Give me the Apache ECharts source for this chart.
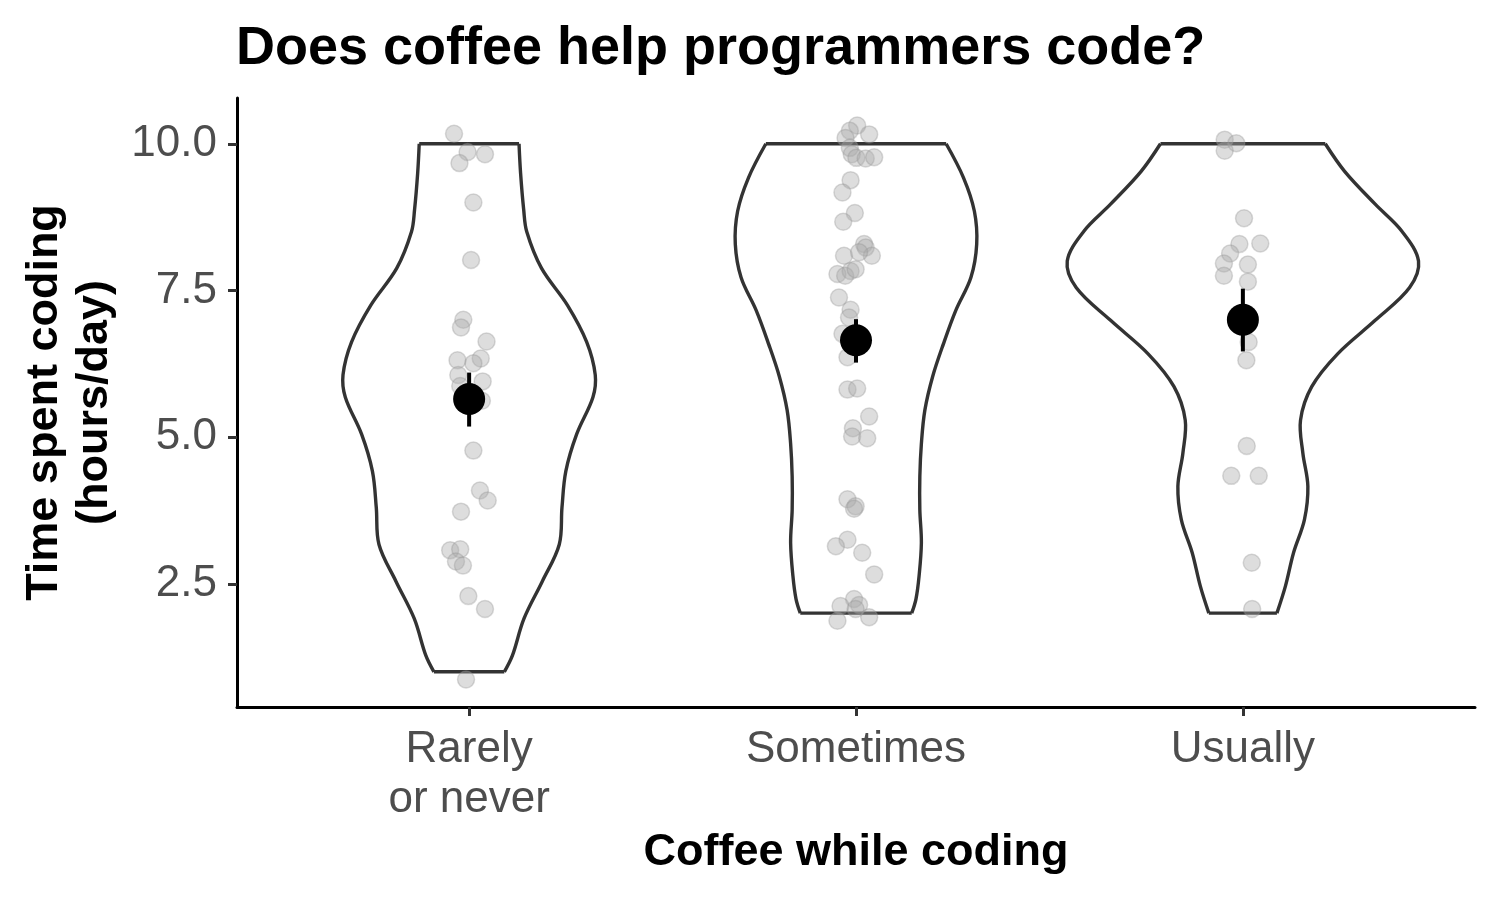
<!DOCTYPE html>
<html><head><meta charset="utf-8">
<script src="https://cdn.jsdelivr.net/npm/echarts@6/dist/echarts.min.js"></script>
<style>html,body{margin:0;padding:0;background:#fff}#chart{width:1500px;height:900px}</style>
</head><body><div id="chart"></div>
<script>
// ---- data ----
const categories = ['Rarely\nor never', 'Sometimes', 'Usually'];
const yTicks = [2.5, 5, 7.5, 10];

// violin outlines: hours level and half-width (in category units)
const violinRarelyLevels = [10, 9.5, 8.88, 8.50, 7.88, 7.25, 6.62, 6.06, 5.68, 5.05, 4.42, 3.80, 3.17, 2.54, 1.91, 1.28, 1.0];
const violinRarelyHalf   = [0.129, 0.133, 0.141, 0.149, 0.187, 0.254, 0.304, 0.326, 0.320, 0.278, 0.250, 0.240, 0.233, 0.189, 0.142, 0.112, 0.091];
const violinSometimesLevels = [10, 9.42, 8.85, 8.29, 7.72, 7.16, 6.59, 6.03, 5.46, 4.89, 4.33, 3.76, 3.20, 2.63, 2.24, 2.0];
const violinSometimesHalf   = [0.233, 0.278, 0.306, 0.312, 0.297, 0.258, 0.226, 0.198, 0.178, 0.169, 0.165, 0.165, 0.169, 0.163, 0.155, 0.144];
const violinUsuallyLevels = [10, 9.53, 8.97, 8.51, 8.0, 7.55, 6.99, 6.42, 5.86, 5.29, 4.73, 4.16, 3.59, 3.03, 2.46, 2.0];
const violinUsuallyHalf   = [0.213, 0.263, 0.342, 0.411, 0.454, 0.431, 0.342, 0.245, 0.178, 0.149, 0.155, 0.168, 0.159, 0.131, 0.110, 0.088];

// raw observations (hours) with horizontal jitter (category units)
const rarelyHours  = [10.17, 9.86, 9.82, 9.67, 9.0, 8.02, 7.0, 6.87, 6.63, 6.31, 6.34, 6.26, 6.06, 5.95, 5.87, 5.62, 4.77, 4.09, 3.92, 3.73, 3.07, 3.09, 2.88, 2.81, 2.29, 2.07, 0.87];
const rarelyJitter = [-0.039, -0.004, 0.041, -0.025, 0.011, 0.005, -0.015, -0.021, 0.045, -0.030, 0.030, 0.011, -0.028, 0.035, -0.023, 0.033, 0.011, 0.028, 0.048, -0.021, -0.049, -0.023, -0.034, -0.016, -0.002, 0.041, -0.008];
const sometimesHours  = [10.31, 10.22, 10.16, 10.10, 9.93, 9.82, 9.76, 9.75, 9.77, 9.38, 9.17, 8.82, 8.67, 8.29, 8.23, 8.09, 8.09, 8.15, 7.78, 7.83, 7.75, 7.86, 7.38, 7.17, 7.04, 6.76, 6.36, 5.81, 5.83, 5.35, 5.15, 5.01, 4.98, 3.94, 3.82, 3.78, 3.25, 3.14, 3.03, 2.66, 2.24, 2.14, 2.12, 2.07, 1.93, 1.87];
const sometimesJitter = [0.003, -0.016, 0.034, -0.027, -0.016, -0.011, 0.001, 0.025, 0.047, -0.014, -0.035, -0.003, -0.033, 0.021, 0.025, 0.041, -0.031, 0.008, -0.048, -0.014, -0.028, -0.001, -0.044, -0.014, -0.018, -0.035, -0.022, -0.022, 0.003, 0.034, -0.008, -0.010, 0.029, -0.022, -0.001, -0.005, -0.022, -0.052, 0.016, 0.047, -0.005, 0.008, -0.040, -0.001, 0.034, -0.048];
const usuallyHours  = [10.07, 10.01, 9.88, 8.73, 8.29, 8.30, 8.13, 7.96, 7.94, 7.75, 7.65, 6.62, 6.31, 4.85, 4.34, 4.34, 2.86, 2.07];
const usuallyJitter = [-0.047, -0.017, -0.047, 0.003, -0.009, 0.045, -0.033, -0.049, 0.013, -0.049, 0.013, 0.015, 0.009, 0.010, -0.030, 0.041, 0.023, 0.024];

// group means and interval
const meanHours = [5.65, 6.65, 7.0];
const errLow  = [5.18, 6.27, 6.46];
const errHigh = [6.10, 7.01, 7.53];

// ---- build ----
const violinLevels = [violinRarelyLevels, violinSometimesLevels, violinUsuallyLevels];
const violinHalf = [violinRarelyHalf, violinSometimesHalf, violinUsuallyHalf];
const hoursAll = [rarelyHours, sometimesHours, usuallyHours];
const jitterAll = [rarelyJitter, sometimesJitter, usuallyJitter];
const pos = categories.map((c, i) => i + 1);

const pointData = [];
hoursAll.forEach((hs, g) => hs.forEach((h, k) => pointData.push([pos[g] + jitterAll[g][k], h])));

const font = '"Liberation Sans", Arial, Helvetica, sans-serif';
const lineStyle = { stroke: '#333333', lineWidth: 3.4, fill: null };

const chart = echarts.init(document.getElementById('chart'), null, { renderer: 'canvas' });
chart.setOption({
  animation: false,
  backgroundColor: '#ffffff',
  title: {
    text: 'Does coffee help programmers code?',
    left: 231, top: 17,
    textStyle: { fontFamily: font, fontSize: 54, fontWeight: 'bold', color: '#000' }
  },
  grid: { left: 237, right: 25, top: 98, bottom: 193 },
  xAxis: {
    type: 'value', min: 0.4, max: 3.6,
    name: 'Coffee while coding', nameLocation: 'middle', nameGap: 123,
    nameTextStyle: { fontFamily: font, fontSize: 45, fontWeight: 'bold', color: '#000' },
    axisLine: { show: true, onZero: false, lineStyle: { color: '#000', width: 3 } },
    axisTick: { show: true, customValues: pos, length: 9, lineStyle: { color: '#333', width: 3 } },
    axisLabel: {
      customValues: pos, margin: 18, fontFamily: font, fontSize: 44, color: '#4d4d4d', lineHeight: 50,
      formatter: v => categories[Math.round(v) - 1] || ''
    },
    splitLine: { show: false }
  },
  yAxis: {
    type: 'value', min: 0.4, max: 10.78,
    name: 'Time spent coding\n(hours/day)', nameLocation: 'middle', nameGap: 117, nameRotate: 90,
    nameTextStyle: { fontFamily: font, fontSize: 45, fontWeight: 'bold', color: '#000', lineHeight: 50, align: 'center' },
    axisLine: { show: true, onZero: false, lineStyle: { color: '#000', width: 3 } },
    axisTick: { show: true, customValues: yTicks, length: 9, lineStyle: { color: '#333', width: 3 } },
    axisLabel: {
      customValues: yTicks, margin: 20, fontFamily: font, fontSize: 44, color: '#4d4d4d',
      formatter: v => v.toFixed(1)
    },
    splitLine: { show: false }
  },
  series: [
    {
      type: 'custom', z: 1,
      data: pos.map(p => [p, 5]),
      encode: { x: 0, y: 1 },
      renderItem: (params, api) => {
        const g = params.dataIndex;
        const c = pos[g];
        const lv = violinLevels[g], hw = violinHalf[g];
        const left = lv.map((v, k) => api.coord([c - hw[k], v]));
        const right = lv.map((v, k) => api.coord([c + hw[k], v]));
        const n = lv.length - 1;
        return {
          type: 'group',
          children: [
            { type: 'polyline', shape: { points: left, smooth: 0.35 }, style: lineStyle },
            { type: 'polyline', shape: { points: right, smooth: 0.35 }, style: lineStyle },
            { type: 'line', shape: { x1: left[0][0], y1: left[0][1], x2: right[0][0], y2: right[0][1] }, style: lineStyle },
            { type: 'line', shape: { x1: left[n][0], y1: left[n][1], x2: right[n][0], y2: right[n][1] }, style: lineStyle }
          ]
        };
      }
    },
    {
      type: 'scatter', z: 2,
      data: pointData,
      symbolSize: 17,
      itemStyle: { color: 'rgba(170,170,170,0.4)', borderColor: 'rgba(150,150,150,0.35)', borderWidth: 1.5, opacity: 1 }
    },
    {
      type: 'custom', z: 3,
      data: pos.map((p, i) => [p, errLow[i], errHigh[i]]),
      encode: { x: 0, y: [1, 2] },
      renderItem: (params, api) => {
        const a = api.coord([api.value(0), api.value(1)]);
        const b = api.coord([api.value(0), api.value(2)]);
        return { type: 'line', shape: { x1: a[0], y1: a[1], x2: b[0], y2: b[1] }, style: { stroke: '#000', lineWidth: 4 } };
      }
    },
    {
      type: 'scatter', z: 4,
      data: pos.map((p, i) => [p, meanHours[i]]),
      symbolSize: 32,
      itemStyle: { color: '#000', opacity: 1 }
    }
  ]
});
</script>
</body></html>
